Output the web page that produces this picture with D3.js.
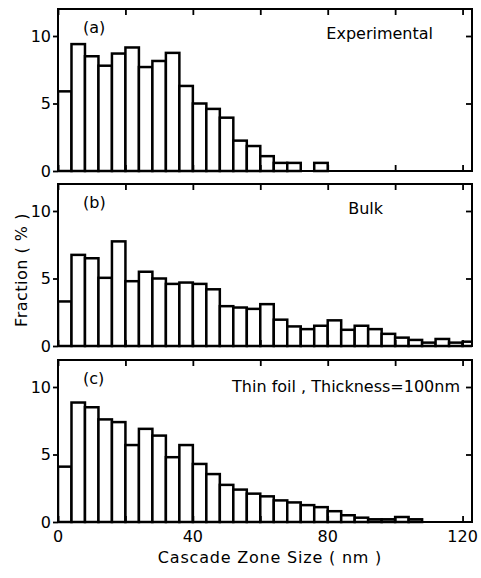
<!DOCTYPE html>
<html>
<head>
<meta charset="utf-8">
<script src="https://cdn.jsdelivr.net/npm/d3@7"></script>
<style>
  html, body { margin: 0; padding: 0; background: #fff; }
  svg { display: block; }
  text { font-family: "DejaVu Sans", "Liberation Sans", Arial, sans-serif; fill: #000; }
</style>
</head>
<body>
<svg id="chart" width="481" height="578"></svg>
<script>
// ---- data (fraction %, 4 nm bins starting at 0) ----
const binWidth = 4;
const experimental = [5.9, 9.4, 8.5, 7.8, 8.7, 9.15, 7.7, 8.15, 8.75, 6.3, 5.0, 4.6, 3.95, 2.25, 1.85, 1.1, 0.6, 0.6, 0, 0.6];
const bulk = [3.3, 6.75, 6.5, 5.05, 7.75, 4.8, 5.5, 5.0, 4.6, 4.7, 4.6, 4.2, 2.95, 2.85, 2.75, 3.1, 1.95, 1.45, 1.25, 1.5, 1.9, 1.2, 1.5, 1.25, 0.9, 0.62, 0.45, 0.25, 0.52, 0.25, 0.32];
const thinFoil = [4.1, 8.85, 8.5, 7.6, 7.4, 5.7, 6.9, 6.4, 4.8, 5.7, 4.3, 3.55, 2.75, 2.4, 2.1, 1.9, 1.6, 1.45, 1.25, 1.1, 0.8, 0.5, 0.32, 0.2, 0.2, 0.37, 0.2];
const panelTags = ["(a)", "(b)", "(c)"];
const panelTitles = ["Experimental", "Bulk", "Thin foil , Thickness=100nm"];
const xTicks = [0, 20, 40, 60, 80, 100, 120];
const xTickLabels = [0, 40, 80, 120];
const yTicks = [0, 5, 10];
const xLabel = "Cascade Zone Size ( nm )";
const yLabel = "Fraction  ( % )";

const series = [experimental, bulk, thinFoil];

// ---- layout ----
const svg = d3.select("#chart");
const left = 58, right = 472;
const panelTops = [9, 184, 360];
const panelH = 162;
const xMax = 122.8;

const x = d3.scaleLinear().domain([0, xMax]).range([left, right]);

series.forEach((vals, p) => {
  const top = panelTops[p];
  const y = d3.scaleLinear().domain([0, 12]).range([top + panelH, top]);
  const g = svg.append("g");

  const clipId = "clip" + p;
  svg.append("clipPath").attr("id", clipId)
    .append("rect").attr("x", left).attr("y", top - 2).attr("width", right - left).attr("height", panelH + 4);

  // bars
  g.append("g").attr("clip-path", `url(#${clipId})`)
    .selectAll("rect").data(vals.map((v, i) => ({ v, i }))).join("rect")
    .filter(d => d.v > 0)
    .attr("x", d => x(d.i * binWidth))
    .attr("width", d => x((d.i + 1) * binWidth) - x(d.i * binWidth))
    .attr("y", d => y(d.v))
    .attr("height", d => y(0) - y(d.v))
    .attr("fill", "#fff")
    .attr("stroke", "#000")
    .attr("stroke-width", 2.5);

  // axes
  const axB = d3.axisBottom(x).tickValues(xTicks).tickSize(-6).tickFormat("");
  const axT = d3.axisTop(x).tickValues(xTicks).tickSize(-6).tickFormat("");
  const axL = d3.axisLeft(y).tickValues(yTicks).tickSize(5).tickPadding(2).tickFormat(d3.format("d"));
  const axR = d3.axisRight(y).tickValues([5, 10]).tickSize(-6).tickFormat("");

  const styleAxis = sel => {
    sel.select(".domain").remove();
    sel.selectAll("line").attr("stroke", "#000").attr("stroke-width", 1.8);
    sel.selectAll("text").style("font-size", "16px").attr("fill", "#000");
  };
  g.append("g").attr("transform", `translate(0,${top + panelH})`).call(axB).call(styleAxis);
  g.append("g").attr("transform", `translate(0,${top})`).call(axT).call(styleAxis);
  g.append("g").attr("transform", `translate(${left},0)`).call(axL).call(styleAxis);
  g.append("g").attr("transform", `translate(${right},0)`).call(axR).call(styleAxis);

  // frame
  g.append("rect").attr("x", left).attr("y", top).attr("width", right - left).attr("height", panelH)
    .attr("fill", "none").attr("stroke", "#000").attr("stroke-width", 2);

  // tags and titles
  g.append("text").attr("x", 83).attr("y", top + 24).style("font-size", "16px").text(panelTags[p]);
  const tx = p === 2 ? 460 : (p === 1 ? 383 : 433);
  g.append("text").attr("x", tx).attr("y", top + (p === 2 ? 32 : 30)).attr("text-anchor", "end")
    .style("font-size", "16px").text(panelTitles[p]);

  if (p === 2) {
    g.append("g").selectAll("text").data(xTickLabels).join("text")
      .attr("x", d => x(d)).attr("y", top + panelH + 20)
      .attr("text-anchor", "middle").style("font-size", "16px").text(d => d);
  }
});

// axis titles
svg.append("text").attr("x", 270).attr("y", 563).attr("text-anchor", "middle")
  .style("font-size", "16px").style("letter-spacing", "0.8px").text(xLabel);
svg.append("text").attr("transform", "translate(27,270) rotate(-90)").attr("text-anchor", "middle")
  .style("font-size", "16px").style("letter-spacing", "0.5px").text(yLabel);
</script>
</body>
</html>
